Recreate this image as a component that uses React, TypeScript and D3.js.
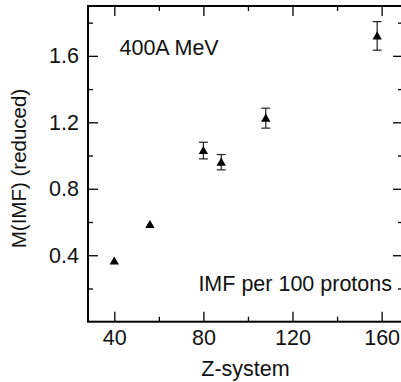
import React, { useEffect, useRef } from 'react'
import * as d3 from 'd3'

// Z-system of each measurement
const zSystem = [40, 56, 80, 88, 108, 158]
// reduced IMF multiplicity per 100 protons
const mImf = [0.365, 0.585, 1.03, 0.96, 1.225, 1.72]
// error bar half-heights (0 = no bar drawn)
const mErr = [0, 0, 0.05, 0.046, 0.06, 0.086]

const xMajor = [40, 80, 120, 160]
const xMinor = [60, 100, 140]
const yMajor = [0.4, 0.8, 1.2, 1.6]
const yMinor = [0.2, 0.6, 1.0, 1.4, 1.8]

const W = 401
const H = 382
const font = '"Liberation Sans", Arial, Helvetica, sans-serif'
const fs = 21.5

export default function App() {
  const ref = useRef<SVGSVGElement>(null)

  useEffect(() => {
    const svg = d3.select(ref.current)
    svg.selectAll('*').remove()

    const left = 88
    const right = 403
    const top = 6
    const bottom = 321.7

    const x = d3.scaleLinear().domain([28.2, 169.6]).range([left, right])
    const y = d3.scaleLinear().domain([0, 1.9]).range([bottom, top])

    const g = svg.append('g')

    const styleAxis = (sel: any, labels: boolean) => {
      sel.select('.domain').remove()
      sel.selectAll('line').attr('stroke', '#000').attr('stroke-width', 1.3)
      sel.selectAll('text')
        .attr('font-family', font)
        .attr('font-size', fs)
        .attr('fill', '#111')
      if (!labels) sel.selectAll('text').remove()
    }

    // bottom
    g.append('g').attr('transform', `translate(0,${bottom})`)
      .call(d3.axisBottom(x).tickValues(xMajor).tickSize(-10).tickPadding(8).tickFormat(d3.format('d')))
      .call((s: any) => styleAxis(s, true))
    g.append('g').attr('transform', `translate(0,${bottom})`)
      .call(d3.axisBottom(x).tickValues(xMinor).tickSize(-5))
      .call((s: any) => styleAxis(s, false))
    // top
    g.append('g').attr('transform', `translate(0,${top})`)
      .call(d3.axisTop(x).tickValues(xMajor).tickSize(-10))
      .call((s: any) => styleAxis(s, false))
    g.append('g').attr('transform', `translate(0,${top})`)
      .call(d3.axisTop(x).tickValues(xMinor).tickSize(-5))
      .call((s: any) => styleAxis(s, false))
    // left
    g.append('g').attr('transform', `translate(${left},0)`)
      .call(d3.axisLeft(y).tickValues(yMajor).tickSize(-10).tickPadding(9).tickFormat(d3.format('.1f')))
      .call((s: any) => styleAxis(s, true))
    g.append('g').attr('transform', `translate(${left},0)`)
      .call(d3.axisLeft(y).tickValues(yMinor).tickSize(-5))
      .call((s: any) => styleAxis(s, false))
    // right
    g.append('g').attr('transform', `translate(${right},0)`)
      .call(d3.axisRight(y).tickValues(yMajor).tickSize(-10))
      .call((s: any) => styleAxis(s, false))
    g.append('g').attr('transform', `translate(${right},0)`)
      .call(d3.axisRight(y).tickValues(yMinor).tickSize(-5))
      .call((s: any) => styleAxis(s, false))

    // frame
    g.append('rect')
      .attr('x', left).attr('y', top)
      .attr('width', right - left).attr('height', bottom - top)
      .attr('fill', 'none').attr('stroke', '#000').attr('stroke-width', 2)

    const pts = zSystem.map((z, i) => ({ z, m: mImf[i], e: mErr[i] }))

    // error bars
    const eb = g.selectAll('g.err').data(pts.filter(d => d.e > 0)).enter().append('g')
      .attr('stroke', '#222').attr('stroke-width', 1.2)
    eb.append('line')
      .attr('x1', d => x(d.z)).attr('x2', d => x(d.z))
      .attr('y1', d => y(d.m + d.e)).attr('y2', d => y(d.m - d.e))
    eb.append('line')
      .attr('x1', d => x(d.z) - 4.5).attr('x2', d => x(d.z) + 4.5)
      .attr('y1', d => y(d.m + d.e)).attr('y2', d => y(d.m + d.e))
    eb.append('line')
      .attr('x1', d => x(d.z) - 4.5).attr('x2', d => x(d.z) + 4.5)
      .attr('y1', d => y(d.m - d.e)).attr('y2', d => y(d.m - d.e))

    // triangles
    const tri = d3.symbol().type(d3.symbolTriangle).size(38)
    g.selectAll('path.pt').data(pts).enter().append('path')
      .attr('d', tri as any)
      .attr('transform', d => `translate(${x(d.z)},${y(d.m) + 0.8})`)
      .attr('fill', '#000')

    // texts
    const txt = (s: string, tx: number, ty: number, anchor = 'start') =>
      g.append('text').attr('x', tx).attr('y', ty).attr('text-anchor', anchor)
        .attr('font-family', font).attr('font-size', fs).attr('fill', '#111').text(s)

    txt('400A MeV', 119.5, 54.5)
    txt('IMF per 100 protons', 392, 290.5, 'end')
    txt('Z-system', 245.5, 376, 'middle')
    g.append('text')
      .attr('transform', `translate(26,${168.5}) rotate(-90)`)
      .attr('text-anchor', 'middle')
      .attr('font-family', font).attr('font-size', 20.5).attr('fill', '#111')
      .text('M(IMF) (reduced)')
  }, [])

  return (
    <svg ref={ref} width={W} height={H}
      style={{ position: 'absolute', left: 0, top: 0, background: '#fff' }} />
  )
}
